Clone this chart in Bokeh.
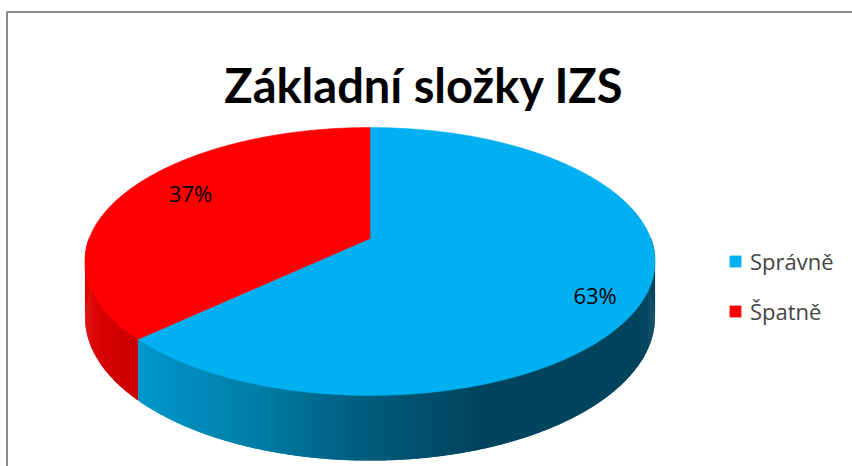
import math
from bokeh.plotting import figure
from bokeh.models import Range1d, Label, Legend, LegendItem, ColumnDataSource
from bokeh.embed import file_html
from bokeh.resources import INLINE

# ---------------- data ----------------
title_text = "Základní složky IZS"
categories = ["Správně", "Špatně"]
values = [63, 37]
top_colors = ["#00B0F0", "#FF0000"]
# side shading stops (screen x, rgb) per slice
side_stops = [
    [(137, (0, 152, 204)), (260, (0, 125, 166)), (353, (0, 95, 128)), (480, (0, 68, 94))],
    [(84, (222, 0, 0)), (145, (200, 0, 0))],
]
label_nudge = [(7, 13), (16, -6)]

# ---------------- geometry (screen pixels) ----------------
CX, CY = 369.5, 238.0
A, B, K = 280.8, 130.0, 0.1716
D = 54.0
W, H = 852, 466


def proj(theta_deg, r=1.0):
    t = math.radians(theta_deg)
    u, v = r * math.cos(t), r * math.sin(t)
    s = 1.0 / (1.0 + K * v)
    return CX + A * u * s, CY - B * v * s, s


def color_at(stops, x):
    if x <= stops[0][0]:
        c = stops[0][1]
    elif x >= stops[-1][0]:
        c = stops[-1][1]
    else:
        for (x0, c0), (x1, c1) in zip(stops[:-1], stops[1:]):
            if x0 <= x <= x1:
                f = (x - x0) / (x1 - x0)
                c = tuple(c0[j] + (c1[j] - c0[j]) * f for j in range(3))
                break
    return "#%02x%02x%02x" % tuple(int(round(v)) for v in c)


total = float(sum(values))
slices = []
cum = 0.0
for v in values:
    start = 90.0 - 360.0 * cum / total
    cum += v
    end = 90.0 - 360.0 * cum / total
    slices.append((end, start))  # end < start (clockwise)

p = figure(width=W, height=H, x_range=Range1d(0, W), y_range=Range1d(H, 0),
           output_backend="svg", toolbar_location=None, x_axis_type=None, y_axis_type=None,
           min_border=0, outline_line_color=None, background_fill_color="white",
           border_fill_color="white")
p.grid.visible = False

# ---------------- chart-area border ----------------
p.line(x=[6.5, 6.5, W + 5], y=[H + 5, 11.5, 11.5], line_color="#8C8C8C", line_width=2)

# ---------------- sides ----------------
sx, sy, sc = [], [], []
for i, (a1, a2) in enumerate(slices):
    for k in (-1, 0, 1):
        lo = max(a1 + 360 * k, -180.0)
        hi = min(a2 + 360 * k, 0.0)
        if hi <= lo:
            continue
        n = max(2, int((hi - lo) / 0.5))
        step = (hi - lo) / n
        for j in range(n):
            t0 = lo + j * step
            t1 = min(hi, t0 + step * 1.8)
            x0, y0, s0 = proj(t0)
            x1, y1, s1 = proj(t1)
            sx.append([x0, x1, x1, x0])
            sy.append([y0 - 1, y1 - 1, y1 + D * s1, y0 + D * s0])
            sc.append(color_at(side_stops[i], (x0 + x1) / 2))
side_src = ColumnDataSource(dict(xs=sx, ys=sy, color=sc))
p.patches("xs", "ys", source=side_src, fill_color="color", line_color=None)

# ---------------- top faces ----------------
top_renderers = []
for i, (a1, a2) in enumerate(slices):
    n = max(4, int((a2 - a1) / 0.5))
    xs = [CX]
    ys = [CY]
    for j in range(n + 1):
        t = a2 - (a2 - a1) * j / n
        x, y, _ = proj(t)
        xs.append(x)
        ys.append(y)
    src = ColumnDataSource(dict(xs=[xs], ys=[ys]))
    r = p.patches("xs", "ys", source=src, fill_color=top_colors[i],
                  line_color=top_colors[i], line_width=0.6)
    top_renderers.append(r)

# ---------------- percentage labels ----------------
lx, ly, lt = [], [], []
for i, (a1, a2) in enumerate(slices):
    mid = (a1 + a2) / 2
    x, y, _ = proj(mid, 0.8)
    lx.append(x + label_nudge[i][0])
    ly.append(y + label_nudge[i][1])
    lt.append("%d%%" % round(100 * values[i] / total))
p.text(x=lx, y=ly, text=lt, text_align="center", text_baseline="middle",
       text_font={"value": "Open Sans"}, text_font_size="22px", text_color="black")

# ---------------- title ----------------
p.add_layout(Label(x=423.5, y=84, text=title_text, text_align="center",
                   text_baseline="alphabetic", text_font="Lato", text_font_style="bold",
                   text_font_size="47px", text_color="black"))

# ---------------- legend ----------------
legend = Legend(items=[LegendItem(label=categories[i], renderers=[top_renderers[i]])
                       for i in range(len(categories))],
                location=(728, 140), orientation="vertical", border_line_color=None,
                background_fill_alpha=0, padding=0, margin=0, glyph_width=14,
                glyph_height=14, label_standoff=8, spacing=20,
                label_text_font="Open Sans", label_text_font_size="22px", label_height=26)
p.add_layout(legend)

open("out.html", "w").write(file_html(p, INLINE))
